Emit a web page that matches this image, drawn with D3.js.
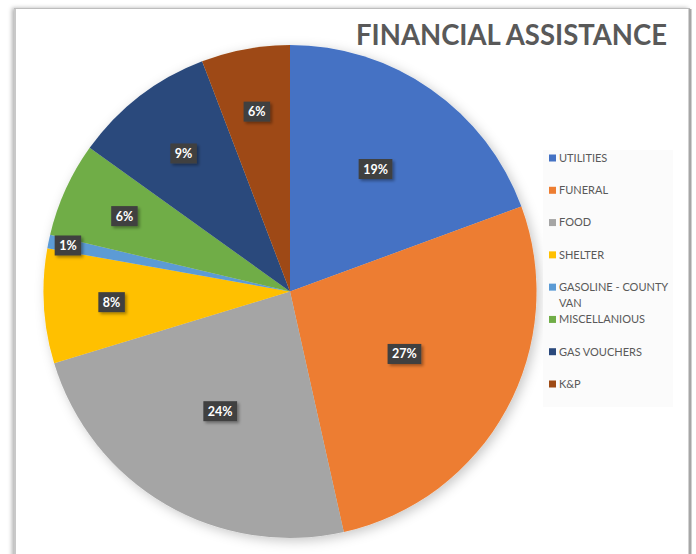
<!DOCTYPE html>
<html>
<head>
<meta charset="utf-8">
<script src="https://cdn.jsdelivr.net/npm/d3@7"></script>
<style>
  html, body { margin: 0; padding: 0; background: #fff; }
  svg { display: block; }
</style>
</head>
<body>
<div id="chart"></div>
<script>
// Slice data, clockwise from 12 o'clock
const categories = ["UTILITIES", "FUNERAL", "FOOD", "SHELTER", "GASOLINE - COUNTY VAN", "MISCELLANIOUS", "GAS VOUCHERS", "K&P"];
const shares = [19.4, 27.1, 23.8, 7.5, 0.9, 6.2, 9.3, 5.8];
const legendLines = [["UTILITIES"], ["FUNERAL"], ["FOOD"], ["SHELTER"], ["GASOLINE - COUNTY", "VAN"], ["MISCELLANIOUS"], ["GAS VOUCHERS"], ["K&P"]];
const colors = ["#4472C4", "#ED7D31", "#A5A5A5", "#FFC000", "#5B9BD5", "#70AD47", "#2A497C", "#9E4A14"];
const title = "FINANCIAL ASSISTANCE";

const W = 696, H = 554;
const cx = 290, cy = 291.5, R = 246.5;

const svg = d3.select("#chart").append("svg")
  .attr("width", W)
  .attr("height", H);

const defs = svg.append("defs");

const pieShadow = defs.append("filter").attr("id", "pieShadow")
  .attr("x", "-10%").attr("y", "-10%").attr("width", "120%").attr("height", "120%");
pieShadow.append("feDropShadow")
  .attr("dx", 3).attr("dy", 3).attr("stdDeviation", 6)
  .attr("flood-color", "#000").attr("flood-opacity", 0.22);

const labelShadow = defs.append("filter").attr("id", "labelShadow")
  .attr("x", "-30%").attr("y", "-30%").attr("width", "160%").attr("height", "160%");
labelShadow.append("feDropShadow")
  .attr("dx", 2).attr("dy", 2).attr("stdDeviation", 1.5)
  .attr("flood-color", "#000").attr("flood-opacity", 0.35);

const frameShadow = defs.append("filter").attr("id", "frameShadow")
  .attr("x", "-5%").attr("y", "-5%").attr("width", "110%").attr("height", "110%");
frameShadow.append("feDropShadow")
  .attr("dx", -2).attr("dy", 0).attr("stdDeviation", 2)
  .attr("flood-color", "#000").attr("flood-opacity", 0.3);

// Chart frame
svg.append("rect")
  .attr("x", 14.5).attr("y", 8.5)
  .attr("width", 675).attr("height", 560)
  .attr("fill", "#fff")
  .attr("stroke", "#bdbdbd")
  .attr("stroke-width", 1)
  .attr("filter", "url(#frameShadow)");
svg.append("line")
  .attr("x1", 690).attr("x2", 690).attr("y1", 9).attr("y2", H)
  .attr("stroke", "#a6a6a6").attr("stroke-width", 3);
svg.append("line")
  .attr("x1", 15).attr("x2", 15).attr("y1", 9).attr("y2", H)
  .attr("stroke", "#c8c8c8").attr("stroke-width", 2);

// Title
const titleText = svg.append("text")
  .attr("x", 667)
  .attr("y", 45)
  .attr("text-anchor", "end")
  .style("font-family", "Lato, 'Open Sans', sans-serif")
  .style("font-weight", "700")
  .style("font-size", "28px")
  .style("fill", "#595959")
  .text(title);
titleText.attr("textLength", 311).attr("lengthAdjust", "spacingAndGlyphs");

// Pie
const pie = d3.pie().sort(null).value(d => d)
  .startAngle(0).endAngle(2 * Math.PI);
const arcs = pie(shares);
const arc = d3.arc().innerRadius(0).outerRadius(R);
const total = d3.sum(shares);

const g = svg.append("g").attr("transform", `translate(${cx},${cy})`);

g.append("g")
  .attr("filter", "url(#pieShadow)")
  .selectAll("path")
  .data(arcs)
  .enter()
  .append("path")
  .attr("d", arc)
  .attr("fill", (d, i) => colors[i]);

// Data labels (best-fit style: bigger slices pull the label inward,
// tiny slices push it toward the rim)
function labelRadius(d) {
  const frac = d.data / total;
  if (frac < 0.03) return R * 0.92;
  return R * (0.80 - frac);
}

const labels = g.selectAll("g.lbl")
  .data(arcs)
  .enter()
  .append("g")
  .attr("class", "lbl")
  .attr("transform", d => {
    const r = labelRadius(d);
    const c = d3.arc().innerRadius(r).outerRadius(r).centroid(d);
    return `translate(${c[0]},${c[1]})`;
  });

labels.each(function (d) {
  const grp = d3.select(this);
  const txt = Math.round(d.data) + "%";
  const t = grp.append("text")
    .attr("text-anchor", "middle")
    .attr("dy", "0.36em")
    .style("font-family", "Lato, 'Open Sans', sans-serif")
    .style("font-weight", "700")
    .style("font-size", "12.5px")
    .style("fill", "#ffffff")
    .text(txt);
  const w = t.node().getComputedTextLength() + 9;
  grp.insert("rect", "text")
    .attr("x", -w / 2)
    .attr("y", -10)
    .attr("width", w)
    .attr("height", 20)
    .attr("fill", "#404040")
    .attr("filter", "url(#labelShadow)");
});

// Legend
const legend = svg.append("g");
legend.append("rect")
  .attr("x", 543).attr("y", 150)
  .attr("width", 130).attr("height", 257)
  .attr("fill", "#fbfbfb");

const legendY = d3.scalePoint()
  .domain(categories)
  .range([158, 384]);

const items = legend.selectAll("g.item")
  .data(categories)
  .enter()
  .append("g")
  .attr("class", "item")
  .attr("transform", d => `translate(549,${legendY(d)})`);

items.append("rect")
  .attr("x", 0).attr("y", -3.5)
  .attr("width", 7).attr("height", 7)
  .attr("fill", (d, i) => colors[i]);

items.append("text")
  .attr("x", 10)
  .attr("dy", "0.35em")
  .style("font-family", "Lato, 'Open Sans', sans-serif")
  .style("font-size", "11px")
  .style("fill", "#595959")
  .each(function (d, i) {
    const t = d3.select(this);
    legendLines[i].forEach((line, j) => {
      t.append("tspan")
        .attr("x", 10)
        .attr("dy", j === 0 ? "0.35em" : "1.5em")
        .text(line);
    });
  });
</script>
</body>
</html>
